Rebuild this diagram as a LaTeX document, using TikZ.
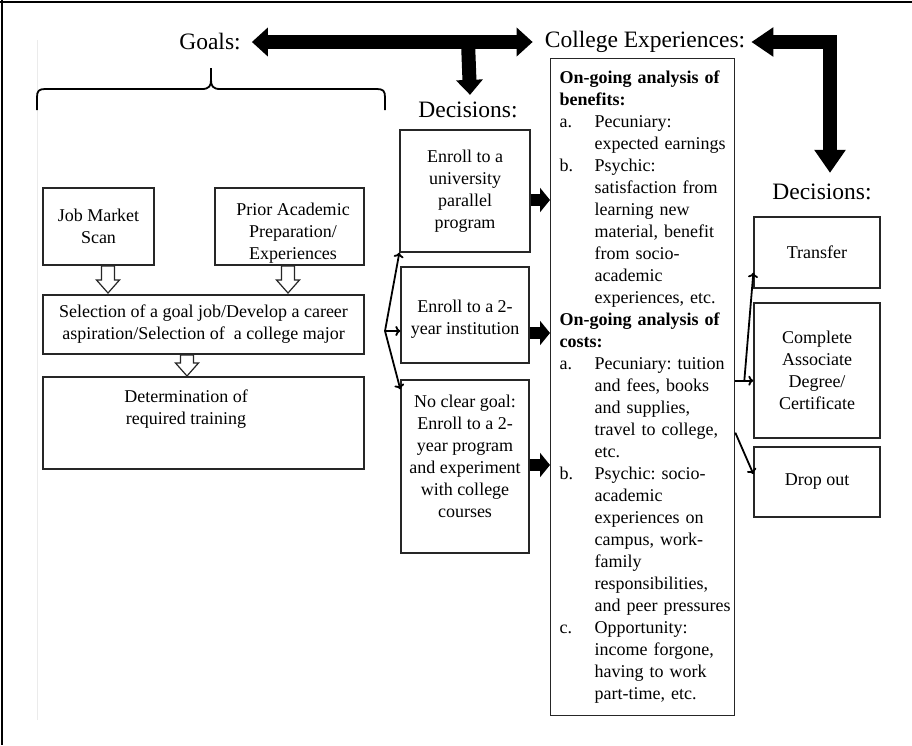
\documentclass[tikz,border=0pt]{standalone}
\usepackage{fontspec}
\setmainfont{Liberation Serif}
\frenchspacing
\usetikzlibrary{arrows.meta,calc}
\newcommand\itemlbl[1]{\makebox[35pt][l]{#1}}
\newcommand\itemind{\hspace*{35pt}}
\newcommand\hdown[3]{\draw[hollow] (#1-6.5,#2) -- (#1+6.5,#2) -- (#1+6.5,#3-13) -- (#1+11.5,#3-13) -- (#1,#3) -- (#1-11.5,#3-13) -- (#1-6.5,#3-13) -- cycle;}
\begin{document}
\begin{tikzpicture}[x=1pt,y=-1pt,
  box/.style={draw=black!85, line width=1.3pt, fill=white, inner sep=0pt, align=center, font=\fontsize{18}{22}\selectfont},
  txt/.style={inner sep=0pt, align=center, font=\fontsize{18}{22}\selectfont},
  head/.style={inner sep=0pt, font=\fontsize{23.5}{28}\selectfont},
  hollow/.style={draw=black!85, line width=1.2pt, fill=white, line join=miter},
  bigarrow/.style={line width=14pt, {Triangle[width=28pt,length=16pt]}-{Triangle[width=28pt,length=16pt]}},
  bigdown/.style={line width=14pt, -{Triangle[width=26pt,length=15pt]}},
  bigL/.style={line width=14pt, line join=miter, {Triangle[width=28pt,length=22pt]}-{Triangle[width=30pt,length=23pt]}},
  medarrow/.style={line width=12pt, -{Triangle[width=24pt,length=10pt]}},
  thinarr/.style={line width=1.8pt, -{To[length=5pt,width=10pt]}}
]
\useasboundingbox (0,0) rectangle (912,745);
% frame
\draw[line width=2pt] (0,2) -- (912,2);
\draw[line width=2pt] (2,0) -- (2,745);
\draw[black!8, line width=1pt] (37,40) -- (37,720);

% headings
\node[head] (goals) at (210,42) {Goals:};
\node[head] (cel) at (645,42) {College Experiences:};
\node[head] (dmid) at (468,110) {Decisions:};
\node[head] (dright) at (822,192) {Decisions:};

% brace
\draw[line width=1.8pt] (37,110) -- (37,97) .. controls (37,91) and (39,89) .. (45,89) -- (202,89) .. controls (209,89) and (211,86) .. (211,80) -- (211,68);
\draw[line width=1.8pt] (211,80) .. controls (211,86) and (213,89) .. (220,89) -- (377,89) .. controls (383,89) and (385,91) .. (385,97) -- (385,110);

% left boxes
\node[box, minimum width=111pt, minimum height=77pt] (jm) at (98.5,226.5) {Job Market\\Scan};
\node[box, minimum width=149pt, minimum height=77pt] (pa) at (289.5,226.5) {};
\node[txt] (pat) at (293,233) {Prior Academic\\Preparation/\\Experiences};
\node[box, minimum width=321pt, minimum height=59pt] (sel) at (203.5,324.5) {Selection of a goal job/Develop a career\\aspiration/Selection of~ a college major};
\node[box, minimum width=321pt, minimum height=92pt] (det) at (203.5,423) {};
\node[txt] (dett) at (186,409) {Determination of\\required training};

\hdown{108}{266}{293}
\hdown{288}{266}{293}
\hdown{187}{355}{376}

% middle decisions
\node[box, minimum width=130pt, minimum height=122pt] (d1) at (465,191) {Enroll to a\\university\\parallel\\program};
\node[box, minimum width=128pt, minimum height=96pt] (d2) at (465,315) {};
\node[txt] (d2t) at (465,319) {Enroll to a 2-\\year institution};
\node[box, minimum width=128pt, minimum height=173pt] (d3) at (465,466.5) {};
\node[txt] (d3t) at (465,456) {No clear goal:\\Enroll to a 2-\\year program\\and experiment\\with college\\courses};

% college experiences box
\node[box, align=left, text width=176pt, inner xsep=4pt, minimum height=657pt, anchor=north west] (ce) at (550,58) {%
\hyphenpenalty=10000\exhyphenpenalty=10000\relax
\hspace*{5pt}\textbf{On-going analysis of}\\
\hspace*{5pt}\textbf{benefits:}\\
\hspace*{5pt}\itemlbl{a.}Pecuniary:\\
\hspace*{5pt}\itemind expected earnings\\
\hspace*{5pt}\itemlbl{b.}Psychic:\\
\hspace*{5pt}\itemind satisfaction from\\
\hspace*{5pt}\itemind learning new\\
\hspace*{5pt}\itemind material, benefit\\
\hspace*{5pt}\itemind from socio-\\
\hspace*{5pt}\itemind academic\\
\hspace*{5pt}\itemind experiences, etc.\\
\hspace*{5pt}\textbf{On-going analysis of}\\
\hspace*{5pt}\textbf{costs:}\\
\hspace*{5pt}\itemlbl{a.}Pecuniary: tuition\\
\hspace*{5pt}\itemind and fees, books\\
\hspace*{5pt}\itemind and supplies,\\
\hspace*{5pt}\itemind travel to college,\\
\hspace*{5pt}\itemind etc.\\
\hspace*{5pt}\itemlbl{b.}Psychic: socio-\\
\hspace*{5pt}\itemind academic\\
\hspace*{5pt}\itemind experiences on\\
\hspace*{5pt}\itemind campus, work-\\
\hspace*{5pt}\itemind family\\
\hspace*{5pt}\itemind responsibilities,\\
\hspace*{5pt}\itemind and peer pressures\\
\hspace*{5pt}\itemlbl{c.}Opportunity:\\
\hspace*{5pt}\itemind income forgone,\\
\hspace*{5pt}\itemind having to work\\
\hspace*{5pt}\itemind part-time, etc.};

% right decisions
\node[box, minimum width=126pt, minimum height=71pt] (tr) at (817,252.5) {Transfer};
\node[box, minimum width=126pt, minimum height=135pt] (cad) at (817,370.5) {Complete\\Associate\\Degree/\\Certificate};
\node[box, minimum width=126pt, minimum height=70pt] (dro) at (817,482) {Drop out};

% big arrows
\draw[bigarrow] ([xshift=11pt]goals.east) -- ([xshift=-12pt]cel.west);
\draw[bigdown] (dmid.north |- goals.center) -- ([xshift=2pt,yshift=7pt]dmid.north);
\draw[bigL] ([xshift=6pt]cel.east) -| ([xshift=8pt,yshift=11pt]dright.north);

% medium arrows
\draw[medarrow] ([yshift=-9pt]d1.east) -- ([yshift=-9pt]d1.east -| ce.west);
\draw[medarrow] ([yshift=-18pt]d2.east) -- ([yshift=-18pt]d2.east -| ce.west);
\draw[medarrow] ([yshift=1.5pt]d3.east) -- ([yshift=1.5pt]d3.east -| ce.west);

% thin arrows left
\coordinate (fk) at (385,331);
\draw[thinarr] (fk) -- (d1.south west);
\draw[thinarr] (fk) -- (fk -| d2.west);
\draw[thinarr] (fk) -- ([yshift=-10pt]d3.north west);

% thin arrows right
\path (ce.east) ++(0,-6.5) coordinate (rf);
\path (rf) ++(9,0) coordinate (rf2);
\path (ce.east) ++(0,45.5) coordinate (rd);
\draw[thinarr] (rf) -- (rf -| cad.west);
\draw[thinarr] (rf2) -- ([yshift=16pt]tr.south west);
\draw[thinarr] (rd) -- ([yshift=8pt]dro.west);
\end{tikzpicture}
\end{document}
